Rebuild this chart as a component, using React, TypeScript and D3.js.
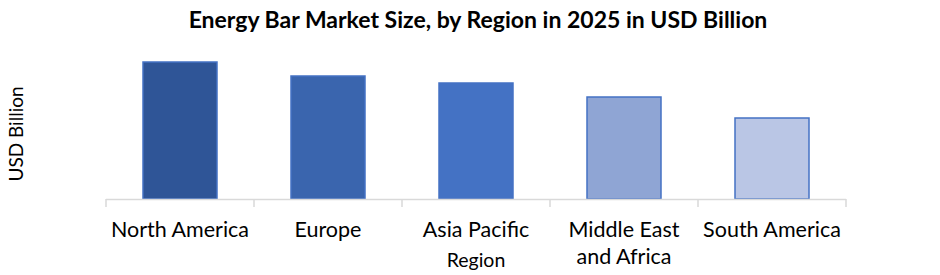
import React from "react";
import * as d3 from "d3";

const categories: string[][] = [
  ["North America"],
  ["Europe"],
  ["Asia Pacific"],
  ["Middle East", "and Africa"],
  ["South America"],
];
const values: number[] = [13.7, 12.3, 11.6, 10.2, 8.1];
const fills: string[] = ["#2F5597", "#3A65AE", "#4472C4", "#8FA5D4", "#BAC6E5"];

const W = 940;
const H = 275;
const FONT = "Lato, 'Liberation Sans', sans-serif";

export default function App() {
  const keys = categories.map((c) => c.join(" "));
  const x = d3.scaleBand<string>().domain(keys).range([106, 846]).paddingInner(0.5).paddingOuter(0.25);
  const y = d3.scaleLinear().domain([0, 15]).range([199, 49]);
  const step = x.step();
  const bounds = d3.range(keys.length + 1).map((i) => 106 + i * step);

  return (
    <svg width={W} height={H} style={{ position: "absolute", left: 0, top: 0 }}>
      <rect width={W} height={H} fill="#ffffff" />
      <text x={478} y={28} textAnchor="middle" fontFamily={FONT} fontWeight="bold" fontSize={23} fill="#000">
        Energy Bar Market Size, by Region in 2025 in USD Billion
      </text>
      <text transform={`translate(23,134) rotate(-90)`} textAnchor="middle" fontFamily={FONT} fontSize={19} fill="#000">
        USD Billion
      </text>
      {values.map((v, i) => (
        <rect
          key={keys[i]}
          x={x(keys[i])!}
          y={y(v)}
          width={x.bandwidth()}
          height={y(0) - y(v)}
          fill={fills[i]}
          stroke="#4472C4"
          strokeWidth={1.5}
        />
      ))}
      <line x1={106} x2={846} y1={199.5} y2={199.5} stroke="#D9D9D9" strokeWidth={1.5} />
      {bounds.map((b) => (
        <line key={b} x1={b} x2={b} y1={199} y2={207} stroke="#D9D9D9" strokeWidth={1.5} />
      ))}
      {categories.map((lines, i) => (
        <text key={keys[i]} textAnchor="middle" fontFamily={FONT} fontSize={21.5} fill="#000">
          {lines.map((l, j) => (
            <tspan key={j} x={x(keys[i])! + x.bandwidth() / 2} y={237 + j * 27}>
              {l}
            </tspan>
          ))}
        </text>
      ))}
      <text x={476} y={267} textAnchor="middle" fontFamily={FONT} fontSize={19.5} fill="#000">
        Region
      </text>
    </svg>
  );
}
